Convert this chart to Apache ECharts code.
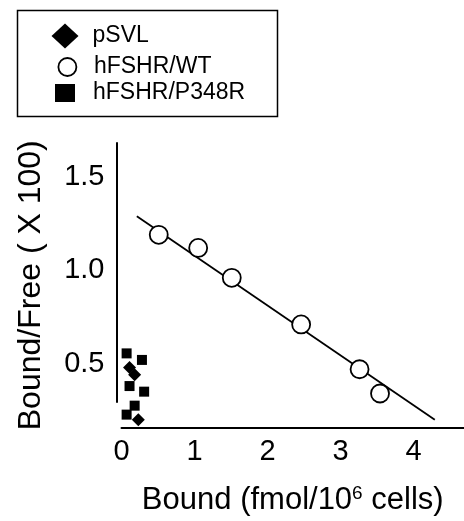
<!DOCTYPE html>
<html>
<head>
<meta charset="utf-8">
<script src="https://cdn.jsdelivr.net/npm/echarts@6/dist/echarts.min.js"></script>
<style>html,body{margin:0;padding:0;background:#fff;}#c{width:464px;height:521px;}</style>
</head>
<body>
<div id="c"></div>
<script>
// ---- data ----
const seriesNames = ['pSVL', 'hFSHR/WT', 'hFSHR/P348R'];
const psvlX = [0.11, 0.18, 0.23];
const psvlY = [0.48, 0.44, 0.20];
const wtX = [0.51, 1.05, 1.51, 2.46, 3.26, 3.54];
const wtY = [1.19, 1.12, 0.96, 0.71, 0.47, 0.34];
const p348rX = [0.07, 0.28, 0.11, 0.31, 0.18, 0.07];
const p348rY = [0.555, 0.52, 0.38, 0.35, 0.275, 0.227];
const fitX = [0.21, 4.29];
const fitY = [1.29, 0.20];
const xTickLabels = [0, 1, 2, 3, 4];
const yTickLabels = [0.5, 1.0, 1.5];
const xTitle = 'Bound (fmol/10';
const xTitleSup = '6';
const xTitleEnd = ' cells)';
const yTitle = 'Bound/Free ( X 100)';

const zip = (xs, ys) => xs.map((x, i) => [x, ys[i]]);
const FONT = '"Liberation Sans", Arial, Helvetica, sans-serif';

const chart = echarts.init(document.getElementById('c'), null, {renderer: 'canvas'});

const legendBase = {
  orient: 'vertical',
  itemHeight: 25,
  selectedMode: false,
  textStyle: {fontFamily: FONT, fontSize: 23, color: '#000'}
};

chart.setOption({
  animation: false,
  backgroundColor: '#fff',
  grid: [
    {left: 121.5, right: 0, top: 143, bottom: 92},
    {left: 117, width: 2, top: 143, bottom: 119}
  ],
  legend: [
    Object.assign({}, legendBase, {
      left: 46.5, top: 18.5, itemWidth: 27,
      data: [{name: seriesNames[0], icon: 'diamond', itemStyle: {color: '#000', borderWidth: 0}}],
      textStyle: Object.assign({}, legendBase.textStyle, {padding: [0, 0, 0, 9]})
    }),
    Object.assign({}, legendBase, {
      left: 52.5, top: 50.5, itemWidth: 18,
      data: [{name: seriesNames[1], icon: 'circle', itemStyle: {color: '#fff', borderColor: '#000', borderWidth: 1.8}}],
      textStyle: Object.assign({}, legendBase.textStyle, {padding: [0, 0, 0, 12.5]})
    }),
    Object.assign({}, legendBase, {
      left: 50, top: 76.5, itemWidth: 20,
      data: [{name: seriesNames[2], icon: 'path://M0,0H10V9H0Z', itemStyle: {color: '#000', borderWidth: 0}}],
      textStyle: Object.assign({}, legendBase.textStyle, {padding: [0, 0, 0, 13]})
    })
  ],
  graphic: [{
    type: 'rect', left: 15, top: 8, silent: true,
    shape: {width: 260, height: 106},
    style: {fill: 'none', stroke: '#000', lineWidth: 1.5}
  }],
  xAxis: [
    {
      type: 'value', gridIndex: 0, min: 0, max: 4.69,
      axisLine: {show: true, onZero: false, lineStyle: {color: '#000', width: 2}},
      axisTick: {show: false},
      splitLine: {show: false},
      axisLabel: {customValues: xTickLabels, fontFamily: FONT, fontSize: 29, color: '#000', margin: 10},
      name: '{a|' + xTitle + '}{s|' + xTitleSup + '}{a|' + xTitleEnd + '}',
      nameLocation: 'middle', nameGap: 57,
      nameTextStyle: {
        rich: {
          a: {fontFamily: FONT, fontSize: 31, color: '#000'},
          s: {fontFamily: FONT, fontSize: 19, color: '#000', verticalAlign: 'top', padding: [0, 0, 13, 0]}
        }
      }
    },
    {type: 'value', gridIndex: 1, show: false, min: 0, max: 1}
  ],
  yAxis: [
    {
      type: 'value', gridIndex: 0, min: 0.158, max: 1.682,
      axisLine: {show: false},
      axisTick: {show: false},
      splitLine: {show: false},
      axisLabel: {customValues: yTickLabels, fontFamily: FONT, fontSize: 29, color: '#000', margin: 17,
        formatter: v => v.toFixed(1)},
      name: yTitle, nameLocation: 'middle', nameGap: 74, nameRotate: 90,
      nameTextStyle: {fontFamily: FONT, fontSize: 32, color: '#000'}
    },
    {
      type: 'value', gridIndex: 1, min: 0, max: 1,
      axisLine: {show: true, lineStyle: {color: '#000', width: 2}},
      axisTick: {show: false}, axisLabel: {show: false}, splitLine: {show: false}
    }
  ],
  series: [
    {
      type: 'line', name: 'fit', xAxisIndex: 0, yAxisIndex: 0,
      data: zip(fitX, fitY), symbol: 'none',
      lineStyle: {color: '#000', width: 1.8}, z: 1, silent: true
    },
    {
      type: 'scatter', name: seriesNames[1], data: zip(wtX, wtY),
      symbol: 'circle', symbolSize: 18,
      itemStyle: {color: '#fff', borderColor: '#000', borderWidth: 1.8, opacity: 1}, z: 3
    },
    {
      type: 'scatter', name: seriesNames[2], data: zip(p348rX, p348rY),
      symbol: 'rect', symbolSize: 10,
      itemStyle: {color: '#000', opacity: 1}, z: 3
    },
    {
      type: 'scatter', name: seriesNames[0], data: zip(psvlX, psvlY),
      symbol: 'diamond', symbolSize: 13,
      itemStyle: {color: '#000', opacity: 1}, z: 4
    }
  ]
});
</script>
</body>
</html>
